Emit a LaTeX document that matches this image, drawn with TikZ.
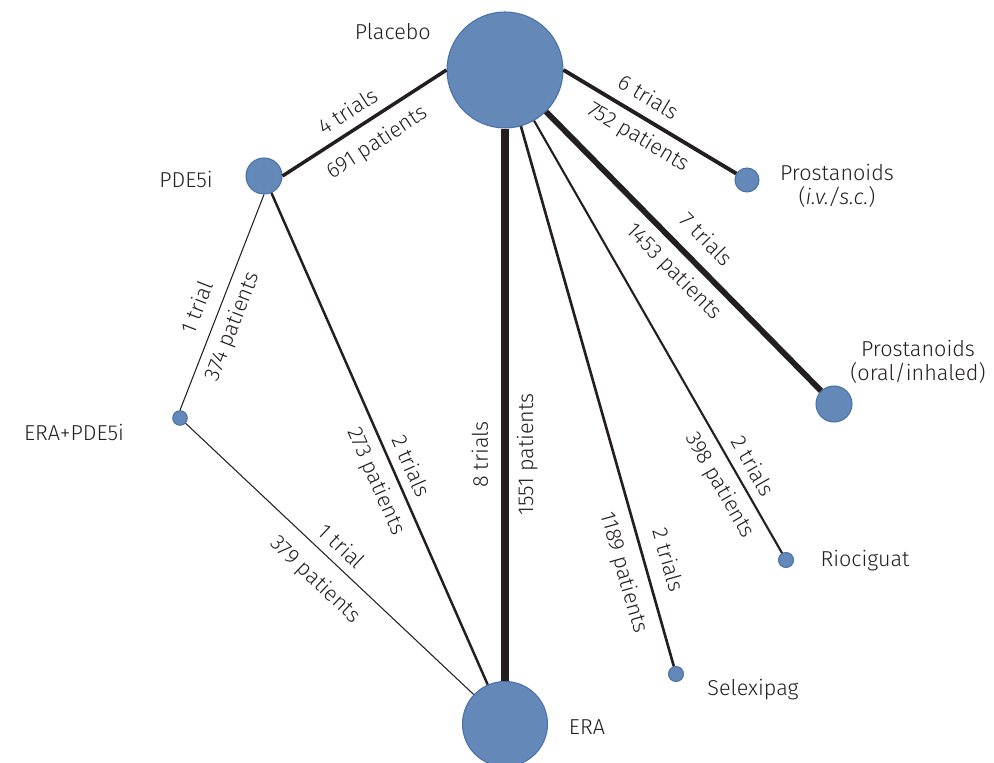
\documentclass[tikz,border=0pt]{standalone}
\usepackage{fontspec}
\setmainfont{Fira Sans}[UprightFont={* Light}, ItalicFont={* Light Italic}]
\definecolor{nodeblue}{RGB}{100,137,185}
\definecolor{nodeedge}{RGB}{72,112,170}
\definecolor{inkgray}{RGB}{35,31,32}
\tikzset{
  trt/.style={circle, fill=nodeblue, draw=nodeedge, line width=0.6pt, inner sep=0pt},
  drug/.style={text=inkgray, align=center},
  trials/.style={sloped, above, inner sep=#1, text=inkgray},
  trials/.default=5pt,
  pats/.style={sloped, below, inner sep=#1, text=inkgray},
  pats/.default=5pt,
}
\begin{document}
\begin{tikzpicture}[x=0.02cm, y=-0.02cm, font=\fontsize{12.3}{14}\selectfont]
    \useasboundingbox (0,0) rectangle (994,763);
    % treatments
    \node[trt, minimum size=2.32cm] (placebo) at (505,70) {};
    \node[trt, minimum size=0.72cm] (pde) at (264,176) {};
    \node[trt, minimum size=0.29cm] (erapde) at (180,418) {};
    \node[trt, minimum size=1.70cm] (era) at (505,724) {};
    \node[trt, minimum size=0.48cm] (pivsc) at (747,180) {};
    \node[trt, minimum size=0.72cm] (poral) at (834,404) {};
    \node[trt, minimum size=0.30cm] (rio) at (786,560) {};
    \node[trt, minimum size=0.30cm] (selexi) at (676,674) {};
    % names
    \node[drug, anchor=east] (lplacebo) at (437,32) {Placebo};
    \node[drug] (lpde) at (186,179) {PDE5i};
    \node[drug] (lerapde) at (74,432) {ERA+PDE5i};
    \node[drug] (lera) at (587,727) {ERA};
    \node[drug] (lselexi) at (753,690) {Selexipag};
    \node[drug] (lrio) at (865,561) {Riociguat};
    \node[drug] (lpivsc) at (837,186) {Prostanoids\\(\textit{i.v./s.c.})};
    \node[drug] (lporal) at (918,362) {Prostanoids\\(oral/inhaled)};
    % comparisons
    \begin{scope}[draw=inkgray]
    \draw[line width=4.4pt] (era) -- node[trials=7.4pt, pos=0.41] {8 trials} node[pats=4.5pt, pos=0.41] {1551 patients} (placebo);
    \draw[line width=3.3pt] (placebo) -- node[trials=8pt, pos=0.52] {7 trials} node[pats=4.8pt, pos=0.52] {1453 patients} (poral);
    \draw[line width=2.2pt] (placebo.east) -- node[trials=6.2pt, pos=0.43] {6 trials} node[pats=4.1pt, pos=0.49] {752 patients} (pivsc);
    \draw[line width=2.0pt] (placebo.west) -- node[trials=5.2pt, pos=0.54] {4 trials} node[pats=6.6pt, pos=0.5] {691 patients} (pde.east);
    \draw[line width=1.5pt] (placebo) -- node[trials=8.5pt, pos=0.815] {2 trials} node[pats=6.4pt, pos=0.815] {1189 patients} (selexi);
    \draw[line width=1.2pt] (placebo) -- node[trials=5.2pt, pos=0.82] {2 trials} node[pats=5.2pt, pos=0.82] {398 patients} (rio);
    \draw[line width=1.4pt] (pde) -- node[trials=5.1pt, pos=0.57] {2 trials} node[pats=5.2pt, pos=0.57] {273 patients} (era);
    \draw[line width=0.6pt] (erapde.north) -- node[trials=7.6pt, pos=0.44] {1 trial} node[pats=4.7pt, pos=0.42] {374 patients} (pde.south);
    \draw[line width=0.6pt] (erapde) -- node[trials=5.2pt, pos=0.5] {1 trial} node[pats=8.2pt, pos=0.51] {379 patients} (era);
    \end{scope}
\end{tikzpicture}
\end{document}
